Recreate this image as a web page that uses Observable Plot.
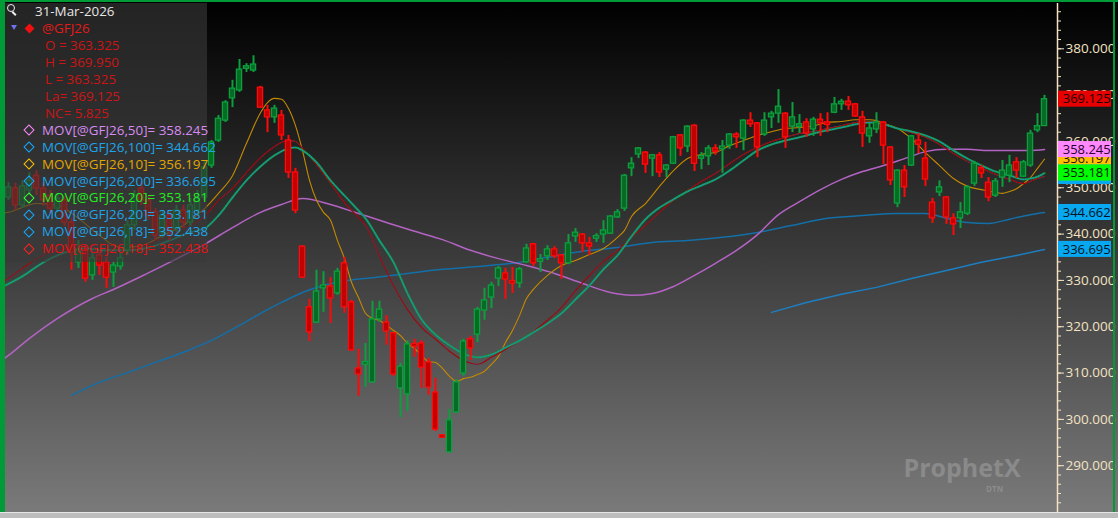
<!DOCTYPE html>
<html><head><meta charset="utf-8">
<script src="https://cdn.jsdelivr.net/npm/d3@7"></script>
<script src="https://cdn.jsdelivr.net/npm/@observablehq/plot@0.6"></script>
<style>
html,body{margin:0;padding:0;background:#000;}
#wrap{position:relative;width:1118px;height:518px;overflow:hidden;font-family:"Open Sans","Noto Sans",sans-serif;
  background:linear-gradient(to bottom,#000 0px,#3b3b3b 256px,#7a7a7a 512px);}
#chart{position:absolute;left:0;top:0;}
#chart svg{display:block;}
.legendbox{position:absolute;left:5px;top:3px;width:202px;height:259px;background:rgba(58,58,58,0.62);}
.lt{position:absolute;font-size:13.4px;line-height:17px;height:17px;white-space:pre;}
.dia{position:absolute;width:6px;height:6px;transform:rotate(45deg);box-sizing:content-box;}
.deco{position:absolute;}
</style></head><body>
<div id="wrap">
  <div id="chart"></div>
  <div class="legendbox"></div>
  <div class="deco" style="left:0;top:0;width:5px;height:518px;background:#009a36;"></div>
  <div class="deco" style="left:0;top:0;width:1118px;height:2px;background:#009a36;"></div>
  <div class="deco" style="left:1113px;top:0;width:2px;height:518px;background:#009a36;"></div>
  <div class="deco" style="left:0;top:512px;width:1118px;height:6px;background:#bdbdbd;border-top:1px solid #e6e6e6;"></div>
</div>
<script>
// ---- candle data (index 1..149, last = 31-Mar-2026) ----
const lastDate = "31-Mar-2026";
const symbol = "@GFJ26";
const opens = [347.9,349.9,346.2,349.4,352.6,349.8,348.3,345.5,347.3,342.5, 333.9,336.5,331.1,335.4,333.9,331.7,333.0,336.5,341.9,349.8, 347.3,344.7,340.3,344.0,341.2,345.1,342.5,345.1,347.9,354.8, 360.2,364.5,369.3,371.0,375.7,375.3,371.6,366.7,365.2,365.6, 360.2,353.3,337.3,324.2,320.9,328.3,328.7,327.2,333.7,325.3, 311.0,311.9,308.0,321.6,320.9,318.6,306.7,305.4,316.2,316.4, 312.3,305.8,296.4,292.9,301.5,309.9,317.3,318.3,323.5,326.3, 330.4,331.5,329.8,329.4,333.9,337.8,334.1,335.2,336.7,335.4, 333.7,339.5,339.9,338.0,339.1,339.9,340.1,343.6,345.5,354.2, 357.2,357.6,356.3,357.0,353.9,355.2,361.3,358.9,363.4,356.3, 356.8,358.5,358.3,359.1,361.5,360.6,364.5,363.9,361.5,365.2, 366.0,366.0,363.2,363.2,364.1,362.6,364.7,364.1,366.2,368.2, 368.6,368.0,365.2,361.1,362.6,364.1,358.7,346.6,353.7,354.8, 360.2,356.3,346.8,349.0,347.9,343.4,343.4,344.4,350.9,354.2, 351.1,348.3,352.2,352.6,355.5,352.4,354.8,362.4,363.325];
const highs = [351.1,350.9,351.5,353.2,353.7,350.9,349.4,348.8,348.1,343.4, 338.6,337.5,336.0,336.5,335.0,333.9,336.0,342.9,349.4,350.9, 348.3,345.5,345.1,345.1,346.2,346.2,347.7,349.4,355.9,360.2, 365.6,368.8,373.2,377.7,376.8,378.5,371.9,367.8,367.8,366.7, 361.3,354.2,337.5,325.9,332.2,331.9,330.6,332.6,335.0,325.7, 315.1,316.4,325.5,325.5,322.4,318.8,312.1,317.0,317.3,317.0, 313.2,308.9,296.5,302.2,308.6,317.3,317.9,324.2,328.3,329.6, 333.0,332.6,332.8,332.8,337.8,338.0,335.6,337.5,337.3,335.6, 339.9,341.2,340.1,339.3,340.1,342.9,344.0,345.3,352.9,356.5, 358.7,357.8,357.2,357.6,355.0,361.1,361.5,363.4,363.6,357.6, 359.1,359.3,360.2,361.7,361.9,364.7,366.2,364.1,366.2,366.5, 371.2,366.2,368.4,365.8,364.9,365.2,366.0,366.2,369.5,369.1, 369.7,368.2,366.5,363.9,366.2,364.3,358.9,353.9,354.8,361.3, 361.7,359.8,347.7,351.5,348.1,344.4,346.8,350.5,355.7,354.8, 352.2,352.0,355.9,357.0,356.5,355.9,362.4,366.0,369.95];
const lows = [347.3,345.1,345.5,348.3,348.3,346.0,344.4,344.7,341.7,332.2, 332.6,329.6,330.0,331.1,328.3,328.5,332.2,335.4,340.8,346.2, 342.9,338.6,339.1,338.6,340.3,341.2,341.7,344.0,347.3,354.2, 359.8,364.1,367.3,370.6,374.9,374.9,367.1,361.9,363.9,360.2, 352.0,344.4,330.4,316.8,320.7,323.1,320.7,326.8,322.9,314.7, 305.0,306.9,307.8,320.9,316.0,309.3,300.4,301.7,313.4,306.7, 305.2,297.4,296.1,292.7,301.3,309.3,312.7,316.6,321.4,323.9, 328.7,325.9,327.2,328.3,333.7,333.0,331.7,334.3,334.7,330.2, 333.4,338.2,336.0,335.4,338.2,338.0,339.9,343.4,344.9,352.4, 356.3,353.1,352.4,352.2,352.2,355.0,356.8,357.6,353.5,353.9, 354.8,357.0,353.1,358.3,358.5,358.0,363.0,356.5,361.1,362.8, 363.9,358.5,361.9,361.7,360.9,361.1,361.1,361.9,366.0,366.7, 366.7,365.2,358.7,359.6,361.7,355.0,350.5,345.7,347.9,354.6, 357.4,350.3,342.3,348.1,342.1,339.7,341.2,344.0,350.3,352.0, 347.0,347.9,350.1,351.1,352.0,352.2,354.4,361.9,363.325];
const closes = [350.1,346.2,350.3,351.5,349.8,347.3,345.5,347.7,342.5,336.0, 336.5,330.4,334.8,333.2,330.6,333.2,334.8,341.9,348.3,347.3, 344.0,339.7,344.0,340.8,345.1,342.5,346.2,347.7,354.4,359.8, 364.9,368.4,371.4,375.5,376.2,376.6,367.3,365.2,367.1,361.3, 353.3,345.1,330.6,318.8,327.6,328.9,326.1,331.9,324.2,314.9, 309.7,312.3,321.6,323.7,319.0,309.7,311.4,316.2,315.8,311.2, 306.9,297.8,296.2,299.8,308.0,316.8,315.3,323.7,325.7,328.9, 332.6,330.2,329.4,332.4,336.9,333.7,334.5,336.7,335.2,333.7, 338.0,340.3,338.0,337.3,339.5,340.8,343.8,344.7,352.6,355.2, 358.5,355.0,357.0,353.3,354.8,360.9,358.5,363.2,355.2,356.8, 358.5,357.8,358.9,361.5,360.9,364.5,363.7,358.7,364.5,366.0, 367.5,360.9,365.2,363.7,361.7,364.7,363.9,363.6,368.0,368.4, 367.8,365.4,361.7,362.8,364.1,359.1,351.6,353.7,350.1,361.1, 359.3,351.8,343.4,350.1,343.6,342.1,344.7,350.1,355.2,353.1, 347.9,351.4,353.7,354.8,353.7,355.5,361.7,363.3,369.125];

// ---- moving averages: [candle index, value] ----
const ma10 = [[0,344.5],[1,344.7],[5,346.6],[8,346.2],[11,343.4],[14,339.7],[17,337.1],[20,337.5],[23,339.7],[26,341.9],[29,345.5],[31,348.8],[33,352.6],[35,359.6],[37,366.2],[38,368.4],[39,369.3],[40,369.1],[41,367.1],[42,363.4],[43,358.0],[44,351.6],[45,347.3],[46,344.7],[47,343.0],[48,338.6],[49,334.7],[50,329.6],[51,326.3],[52,322.9],[53,321.8],[54,321.4],[55,320.3],[56,319.2],[57,318.1],[58,316.4],[59,315.3],[60,313.8],[61,312.5],[62,312.3],[63,311.0],[64,309.3],[65,308.2],[66,308.8],[67,309.1],[68,309.7],[69,310.4],[70,311.9],[71,313.6],[72,316.6],[73,319.2],[74,322.4],[75,326.1],[76,328.1],[78,331.1],[80,333.2],[82,334.3],[84,335.6],[86,336.9],[88,339.3],[89,340.8],[90,343.8],[92,346.6],[94,350.3],[96,353.7],[98,356.3],[100,357.2],[102,357.6],[104,359.1],[106,360.2],[108,361.3],[110,362.1],[112,362.8],[114,363.0],[116,363.4],[118,364.1],[120,364.3],[122,364.7],[124,364.7],[125,364.5],[126,363.9],[128,362.8],[130,360.6],[132,357.6],[134,354.8],[136,352.0],[138,350.3],[140,349.6],[142,349.0],[143,348.8],[144,349.2],[145,349.8],[146,350.9],[147,352.2],[148,354.2],[149,356.197]];
const ma20 = [[0,328.5],[3,330.9],[6,333.9],[9,336.0],[12,336.9],[15,336.5],[18,336.5],[21,337.1],[24,338.6],[27,340.4],[29,341.2],[31,344.0],[33,347.9],[35,351.6],[37,354.6],[39,357.0],[41,358.5],[42,358.7],[43,358.05],[45,355.5],[47,351.6],[49,348.3],[51,345.1],[52,343.4],[54,338.6],[56,333.9],[58,327.2],[60,321.6],[62,318.3],[64,316.0],[66,314.2],[68,313.4],[70,314.0],[72,315.5],[74,317.0],[76,318.8],[78,320.7],[80,322.9],[82,325.9],[84,328.9],[86,332.4],[88,335.4],[90,339.5],[92,343.2],[94,345.7],[96,347.5],[98,349.2],[100,350.5],[102,351.8],[104,353.7],[106,355.9],[108,358.05],[110,359.35],[112,360.2],[114,360.9],[116,361.7],[118,362.4],[120,363.0],[122,363.7],[124,364.1],[126,363.7],[128,362.8],[130,362.15],[132,361.3],[134,360.0],[136,358.05],[138,356.3],[140,354.8],[142,353.5],[144,352.7],[146,351.8],[147,352.0],[148,352.4],[149,353.181]];
const ma18 = [[0,329.35],[3,332.6],[5,334.7],[8,336.5],[11,337.3],[14,336.9],[17,336.5],[20,337.3],[23,339.1],[26,341.2],[29,343.8],[31,347.3],[33,349.85],[35,353.3],[37,356.5],[39,358.9],[40,359.8],[41,360.2],[42,360.0],[43,358.5],[45,355.0],[47,351.0],[49,346.8],[51,343.6],[52,341.9],[54,335.2],[56,328.9],[58,323.7],[60,319.85],[62,317.3],[64,314.7],[66,312.7],[68,311.9],[70,313.4],[72,315.1],[74,317.05],[76,319.0],[78,321.4],[80,324.2],[82,327.8],[84,331.1],[86,334.1],[88,336.5],[90,339.3],[92,341.9],[94,344.7],[96,347.3],[98,349.4],[100,351.4],[102,353.1],[104,355.2],[106,357.2],[108,358.7],[110,360.0],[112,360.9],[114,361.7],[116,362.15],[118,362.8],[120,363.4],[122,364.1],[124,364.3],[126,363.7],[128,362.8],[130,361.9],[132,360.9],[134,359.35],[136,357.4],[138,355.7],[140,354.2],[142,352.9],[144,351.8],[146,350.9],[147,351.4],[148,352.0],[149,352.438]];
const ma50 = [[0,312.7],[1,313.8],[4,317.5],[8,321.8],[13,326.1],[16,328.05],[20,330.9],[24,333.9],[29,337.8],[33,341.4],[37,344.7],[40,346.4],[43,347.7],[47,346.4],[51,344.45],[55,342.5],[59,340.6],[63,338.8],[67,336.5],[71,334.7],[75,333.2],[79,331.5],[83,329.35],[87,327.4],[90,326.8],[93,327.2],[96,328.7],[99,331.1],[102,333.7],[105,336.5],[108,339.9],[111,344.2],[114,347.0],[117,349.6],[120,351.8],[123,353.5],[126,354.8],[129,356.3],[132,357.8],[135,358.3],[138,358.3],[141,358.05],[144,358.05],[147,358.05],[149,358.245]];
const ma100 = [[10,305.2],[14,308.0],[18,310.1],[22,312.3],[26,314.5],[30,317.05],[34,320.3],[38,323.7],[40,325.25],[43,327.4],[48,329.6],[53,330.6],[58,331.5],[63,332.4],[68,333.0],[73,333.7],[78,335.0],[83,336.3],[88,337.1],[93,338.2],[98,338.6],[103,339.3],[108,340.35],[113,341.9],[118,343.4],[123,344.0],[128,344.45],[132,344.45],[135,343.4],[138,342.5],[141,342.3],[144,343.2],[147,344.2],[149,344.662]];
const ma200 = [[110,323.1],[115,325.25],[120,327.0],[125,328.5],[130,330.4],[135,332.15],[140,333.9],[145,335.4],[149,336.695]];

const majorTicks = [290,300,310,320,330,340,350,360,370,380];
const minorTicks = d3.range(282, 390, 2);

// ---- legend rows ----
const maLegend = [
  {label:"MOV[@GFJ26,50]=",  series:ma50,  text:"#d68cf2", icon:"#ff88ff"},
  {label:"MOV[@GFJ26,100]=", series:ma100, text:"#1ea4ea", icon:"#12aaff"},
  {label:"MOV[@GFJ26,10]=",  series:ma10,  text:"#e2a600", icon:"#ffc000"},
  {label:"MOV[@GFJ26,200]=", series:ma200, text:"#1ea4ea", icon:"#12aaff"},
  {label:"MOV[@GFJ26,20]=",  series:ma20,  text:"#22ee22", icon:"#33ff33"},
  {label:"MOV[@GFJ26,20]=",  series:ma20,  text:"#1ea4ea", icon:"#12aaff"},
  {label:"MOV[@GFJ26,18]=",  series:ma18,  text:"#1ea4ea", icon:"#12aaff"},
  {label:"MOV[@GFJ26,18]=",  series:ma18,  text:"#e81212", icon:"#ff2020"}
];

// ---- build ----
const lastOf = a => a[a.length-1][1];
const n = closes.length;
const candles = opens.map((o,k)=>({i:k+1, o, h:highs[k], l:lows[k], c:closes[k]}));
const isUp = d => d.c >= d.o;
const G_EDGE="#0d9e3e", G_FILL="#056c26", R_EDGE="#ff0a0a", R_FILL="#c20000";
const cream = "#f3e3c2";
const pts = a => a.map(([i,v])=>({i,v}));

const xMin = 4/7, xMax = 1056/7;       // frame edges
const yMin = 279.9, yMax = 389.78;
const halfBody = 0.37, minHalf = 0.28;
const boxHalf = 1.73, boxX1 = 151.0, boxX2 = 158.57;

const lastClose = closes[n-1];
// boxes stacked in drawing order; boxes fully hidden under a later one carry no label
const boxes = [
  {v:lastOf(ma100), bg:"#08a8f0", fg:"#00131f", label:true},
  {v:lastOf(ma200), bg:"#08a8f0", fg:"#00131f", label:true},
  {v:lastOf(ma10),  bg:"#ffc000", fg:"#261900", label:true},
  {v:lastOf(ma18),  bg:"#e00000", fg:"#1c0000", label:false},
  {v:lastOf(ma18),  bg:"#08a8f0", fg:"#00131f", label:false},
  {v:lastOf(ma20),  bg:"#08a8f0", fg:"#00131f", label:false},
  {v:lastOf(ma20),  bg:"#00ff00", fg:"#001a00", label:true},
  {v:lastOf(ma50),  bg:"#ff88ff", fg:"#2a002a", label:true},
  {v:lastClose,     bg:"#e60000", fg:"#1c0000", label:true}
];
const boxMarks = boxes.flatMap(b => [
  Plot.rect([b], {x1:boxX1, x2:boxX2, y1:d=>d.v-boxHalf, y2:d=>d.v+boxHalf, fill:"bg"}),
  ...(b.label ? [Plot.text([b], {x:boxX1+0.6, y:"v", text:d=>d.v.toFixed(3), textAnchor:"start", fill:"fg", fontSize:13})] : [])
]);

const chart = Plot.plot({
  width:1118, height:518,
  marginLeft:5, marginRight:61, marginTop:3, marginBottom:6,
  x:{domain:[xMin,xMax], axis:null},
  y:{domain:[yMin,yMax]},
  color:{type:"identity"},
  style:{background:"transparent", fontFamily:"'Open Sans','Noto Sans',sans-serif", fontSize:"13px", overflow:"visible"},
  marks:[
    Plot.text(["ProphetX"], {x:xMax-22.0, y:yMin+9.3, text:d=>d, textAnchor:"start", fill:"#a6a6a6", fillOpacity:0.5, fontSize:25, fontWeight:"bold"}),
    Plot.text(["DTN"], {x:xMax-10.2, y:yMin+5.0, text:d=>d, textAnchor:"start", fill:"#a6a6a6", fillOpacity:0.5, fontSize:8, fontWeight:"bold"}),
    Plot.line(pts(ma200), {x:"i", y:"v", stroke:"#1b7fc2", strokeWidth:1.5, clip:true}),
    Plot.line(pts(ma100), {x:"i", y:"v", stroke:"#136fa8", strokeWidth:1.5, curve:"monotone-x", clip:true}),
    Plot.line(pts(ma50),  {x:"i", y:"v", stroke:"#b463c4", strokeWidth:1.5, curve:"monotone-x", clip:true}),
    Plot.line(pts(ma10),  {x:"i", y:"v", stroke:"#c48a00", strokeWidth:1.1, curve:"monotone-x", clip:true}),
    Plot.line(pts(ma18),  {x:"i", y:"v", stroke:"#1a7ab8", strokeWidth:1, curve:"monotone-x", clip:true}),
    Plot.line(pts(ma18),  {x:"i", y:"v", stroke:"#a80000", strokeWidth:1.1, curve:"monotone-x", clip:true}),
    Plot.line(pts(ma20),  {x:"i", y:"v", stroke:"#0e9a30", strokeWidth:2.1, curve:"monotone-x", clip:true}),
    Plot.line(pts(ma20),  {x:"i", y:"v", stroke:"#2390cc", strokeWidth:1.1, strokeDasharray:"1,1.6", curve:"monotone-x", clip:true}),
    Plot.ruleX(candles, {x:"i", y1:"l", y2:"h", stroke:d=>isUp(d)?G_EDGE:R_EDGE, strokeWidth:2, clip:true}),
    Plot.rect(candles, {x1:d=>d.i-halfBody, x2:d=>d.i+halfBody,
      y1:d=>Math.min(Math.min(d.o,d.c), (d.o+d.c)/2-minHalf),
      y2:d=>Math.max(Math.max(d.o,d.c), (d.o+d.c)/2+minHalf),
      fill:d=>isUp(d)?G_FILL:R_FILL, stroke:d=>isUp(d)?G_EDGE:R_EDGE, strokeWidth:1.3, clip:true}),
    Plot.ruleX([xMax], {stroke:cream, strokeWidth:1.5}),
    Plot.axisY({anchor:"right", ticks:minorTicks, tickSize:3, tickFormat:()=>"", stroke:cream}),
    Plot.axisY({anchor:"right", ticks:majorTicks, tickSize:6, tickPadding:2, tickFormat:d=>d.toFixed(3), stroke:cream, fill:cream, fontSize:13.5}),
    ...boxMarks
  ]
});
document.getElementById("chart").appendChild(chart);

// ---- legend (HTML overlay) ----
const wrap = document.getElementById("wrap");
const rowY = k => 12 + 16.95*k;
function addText(t, x, cy, color){
  const d = document.createElement("div");
  d.className="lt"; d.textContent=t;
  d.style.left=x+"px"; d.style.top=(cy-9)+"px"; d.style.color=color;
  wrap.appendChild(d);
}
function addDiamond(cx, cy, color, filled){
  const d = document.createElement("div");
  d.className="dia";
  if (filled){ d.style.width="7px"; d.style.height="7px"; d.style.background=color; d.style.left=(cx-3.5)+"px"; d.style.top=(cy-3.5)+"px"; }
  else { d.style.border="1.6px solid "+color; d.style.left=(cx-4.6)+"px"; d.style.top=(cy-4.6)+"px"; }
  wrap.appendChild(d);
}
const mag = document.createElement("div");
mag.className="deco";
mag.style.cssText="left:7px;top:4px;width:6px;height:6px;border:1.5px solid #f0f0f0;border-radius:50%;";
wrap.appendChild(mag);
const magH = document.createElement("div");
magH.className="deco";
magH.style.cssText="left:13px;top:11px;width:5px;height:1.6px;background:#f0f0f0;transform:rotate(45deg);transform-origin:0 0;";
wrap.appendChild(magH);
const tri = document.createElement("div");
tri.className="deco";
tri.style.cssText="left:11px;top:25px;width:0;height:0;border-left:3.5px solid transparent;border-right:3.5px solid transparent;border-top:5px solid #7070f0;";
wrap.appendChild(tri);

const last = candles[n-1], prev = candles[n-2];
addText(lastDate, 35, rowY(0), "#e6e6e6");
addDiamond(29.5, rowY(1), "#f01010", true);
addText(symbol, 42, rowY(1), "#e31a1a");
addText("O = "+last.o.toFixed(3), 45, rowY(2), "#cc1515");
addText("H = "+last.h.toFixed(3), 45, rowY(3), "#cc1515");
addText("L = "+last.l.toFixed(3), 45, rowY(4), "#cc1515");
addText("La= "+last.c.toFixed(3), 45, rowY(5), "#cc1515");
addText("NC= "+(last.c-prev.c).toFixed(3), 45, rowY(6), "#cc1515");
maLegend.forEach((m,k)=>{
  addDiamond(29.5, rowY(7+k), m.icon, false);
  addText(m.label+" "+lastOf(m.series).toFixed(3), 42, rowY(7+k), m.text);
});
</script>
</body></html>
